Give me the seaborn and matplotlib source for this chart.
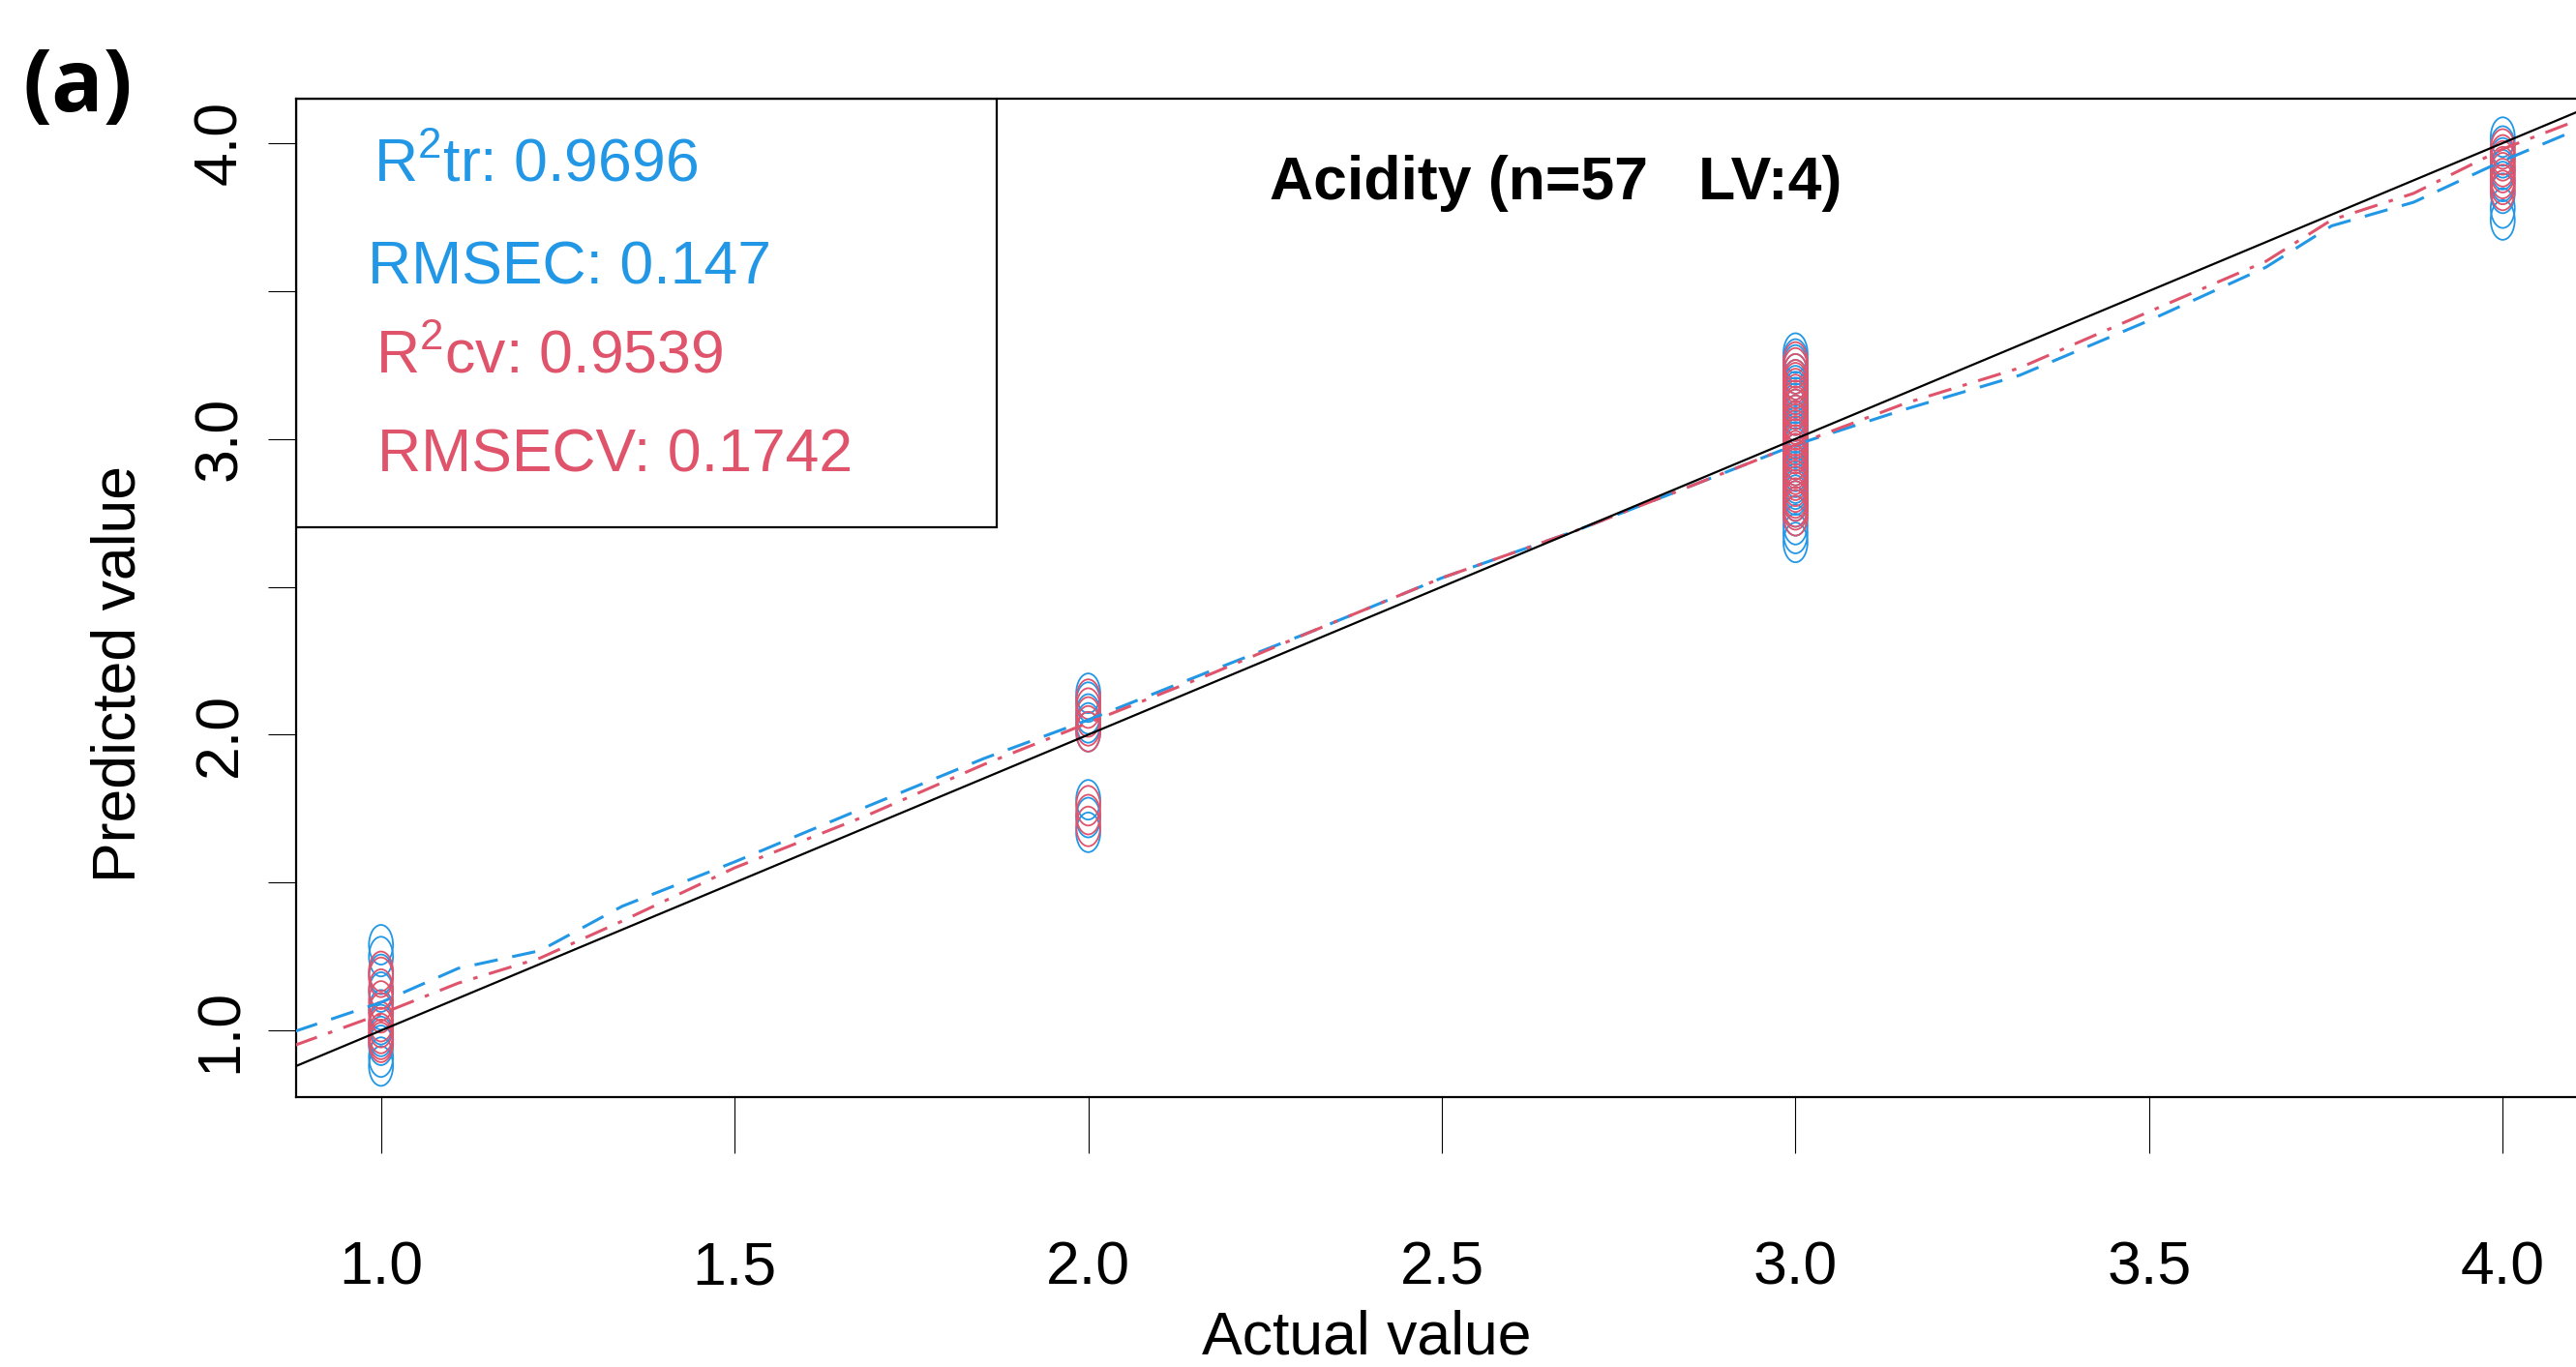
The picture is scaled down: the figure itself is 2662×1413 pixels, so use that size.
import matplotlib
matplotlib.use('Agg')
import pandas as pd
import matplotlib.pyplot as plt
import seaborn as sns
from matplotlib.markers import MarkerStyle
from matplotlib.transforms import Affine2D
from matplotlib.patches import Rectangle

# Predicted values per class
actual_1 = 1.0
train_1 = [1.29, 1.25, 1.19, 1.13, 1.07, 1.02, 0.98, 0.95, 0.91, 0.88]
cv_1 = [1.20, 1.18, 1.14, 1.10, 1.06, 1.03, 1.01, 0.99, 0.97, 0.96]

actual_2 = 2.0
train_2 = [2.14, 2.11, 2.07, 2.04, 2.01, 1.78, 1.72, 1.67]
cv_2 = [2.12, 2.09, 2.06, 2.03, 2.01, 1.76, 1.73, 1.69]

actual_3 = 3.0
train_3 = [3.29, 3.27, 3.25, 3.22, 3.20, 3.18, 3.16, 3.14, 3.12, 3.10, 3.08,
           3.06, 3.04, 3.02, 3.00, 2.99, 2.97, 2.95, 2.93, 2.91, 2.89, 2.87,
           2.85, 2.83, 2.81, 2.79, 2.77, 2.74, 2.71, 2.68, 2.65]
cv_3 = [3.26, 3.24, 3.22, 3.20, 3.19, 3.17, 3.15, 3.13, 3.11, 3.10, 3.08,
        3.06, 3.05, 3.03, 3.01, 3.00, 2.98, 2.96, 2.95, 2.93, 2.91, 2.90,
        2.88, 2.86, 2.84, 2.82, 2.80, 2.79, 2.77, 2.76, 2.74]

actual_4 = 4.0
train_4 = [4.02, 3.99, 3.95, 3.91, 3.87, 3.83, 3.78, 3.74]
cv_4 = [3.98, 3.96, 3.94, 3.92, 3.90, 3.88, 3.86, 3.84]

# smoothed fit lines
line_x = [0.878, 1.0, 1.109, 1.225, 1.341, 1.5, 1.69, 1.853, 2.0, 2.178, 2.317,
          2.5, 2.69, 2.83, 3.0, 3.155, 3.317, 3.5, 3.665, 3.758, 3.874, 4.0, 4.12]
line_train = [0.997, 1.095, 1.21, 1.27, 1.42, 1.57, 1.76, 1.92, 2.05, 2.22, 2.35,
              2.53, 2.69, 2.82, 2.98, 3.10, 3.215, 3.40, 3.58, 3.72, 3.80, 3.94, 4.06]
line_cv = [0.95, 1.056, 1.16, 1.245, 1.37, 1.55, 1.73, 1.90, 2.04, 2.21, 2.35,
           2.53, 2.69, 2.82, 2.98, 3.12, 3.24, 3.43, 3.60, 3.74, 3.83, 3.98, 4.09]

stat_labels = [r'R$^{2}$tr: 0.9696', 'RMSEC: 0.147', r'R$^{2}$cv: 0.9539', 'RMSECV: 0.1742']
title = 'Acidity (n=57   LV:4)'

BLUE = '#2297E6'
RED = '#DF536B'

# build long tables
actual = ([actual_1] * len(train_1) + [actual_2] * len(train_2)
          + [actual_3] * len(train_3) + [actual_4] * len(train_4))
df = pd.DataFrame({
    'actual': actual,
    'train': train_1 + train_2 + train_3 + train_4,
    'cv': cv_1 + cv_2 + cv_3 + cv_4,
})
lines = pd.DataFrame({'x': line_x, 'train': line_train, 'cv': line_cv})

sns.set_style('ticks')
plt.rcParams['font.family'] = ['Liberation Sans', 'DejaVu Sans']
plt.rcParams['mathtext.fontset'] = 'custom'
plt.rcParams['mathtext.rm'] = 'Liberation Sans'
plt.rcParams['mathtext.it'] = 'Liberation Sans'
for k in ['text.color', 'axes.labelcolor', 'xtick.color', 'ytick.color', 'axes.edgecolor']:
    plt.rcParams[k] = 'black'

W, H = 2662, 1413
fig = plt.figure(figsize=(W / 100, H / 100), dpi=100)
ax = fig.add_axes([306 / W, 1 - 1134 / H, (2674 - 306) / W, (1134 - 102) / H])

# rings are drawn as tall ellipses, as in the original picture
ring = MarkerStyle('o', fillstyle='none', transform=Affine2D().scale(1, 1.65))
sns.scatterplot(data=df, x='actual', y='train', marker=ring, s=320,
                color=BLUE, linewidths=1.3, ax=ax, zorder=2)
sns.scatterplot(data=df, x='actual', y='cv', marker=ring, s=320,
                color=RED, linewidths=1.3, ax=ax, zorder=3)

sns.lineplot(data=lines, x='x', y='train', color=BLUE, lw=2.2,
             estimator=None, sort=False, ax=ax, zorder=4)
ax.lines[-1].set_dashes((8, 5))
sns.lineplot(data=lines, x='x', y='cv', color=RED, lw=2.2,
             estimator=None, sort=False, ax=ax, zorder=4)
ax.lines[-1].set_dashes((8, 4, 1.5, 4))
ax.axline((1, 1), slope=1, color='black', lw=1.6, zorder=5)

ax.set_xlim(0.88, 4.12)
ax.set_ylim(0.775, 4.15)

xt = [1.0, 1.5, 2.0, 2.5, 3.0, 3.5, 4.0]
ax.set_xticks(xt)
ax.set_xticklabels([f'{v:.1f}' for v in xt], fontsize=45)
ax.set_yticks(xt)
ax.set_yticklabels([f'{v:.1f}' if v == int(v) else '' for v in xt],
                   fontsize=45, rotation=90, va='center')
ax.tick_params(axis='x', length=42, width=0.8, pad=64, color='black')
ax.tick_params(axis='y', length=21, width=0.8, pad=14, color='black')
ax.set_xlabel('')
ax.set_ylabel('')
for sp in ax.spines.values():
    sp.set_linewidth(1.6)
    sp.set_color('black')

# stats box
box_w = (1030 - 306) / (2674 - 306)
box_y = (1134 - 545) / (1134 - 102)
ax.add_patch(Rectangle((0, box_y), box_w, 1 - box_y, transform=ax.transAxes,
                       fill=False, edgecolor='black', lw=1.6, zorder=6))

stat_pos = [(386, 187), (380, 293), (388, 385), (390, 487)]
stat_cols = [BLUE, BLUE, RED, RED]
for lab, (px, py), c in zip(stat_labels, stat_pos, stat_cols):
    fig.text(px / W, 1 - py / H, lab, color=c, fontsize=45,
             ha='left', va='baseline')

fig.text(1608 / W, 1 - 206 / H, title, fontsize=45, fontweight='bold',
         ha='center', va='baseline')
fig.text(1412 / W, 1 - 1400 / H, 'Actual value', fontsize=45,
         ha='center', va='baseline')
fig.text(139 / W, 1 - 697 / H, 'Predicted value', fontsize=45, rotation=90,
         rotation_mode='anchor', ha='center', va='baseline')
fig.text(80 / W, 1 - 115 / H, '(a)', fontsize=64, fontweight='bold',
         family=['Open Sans', 'DejaVu Sans'], ha='center', va='baseline')

fig.savefig('out.png', dpi=100)
